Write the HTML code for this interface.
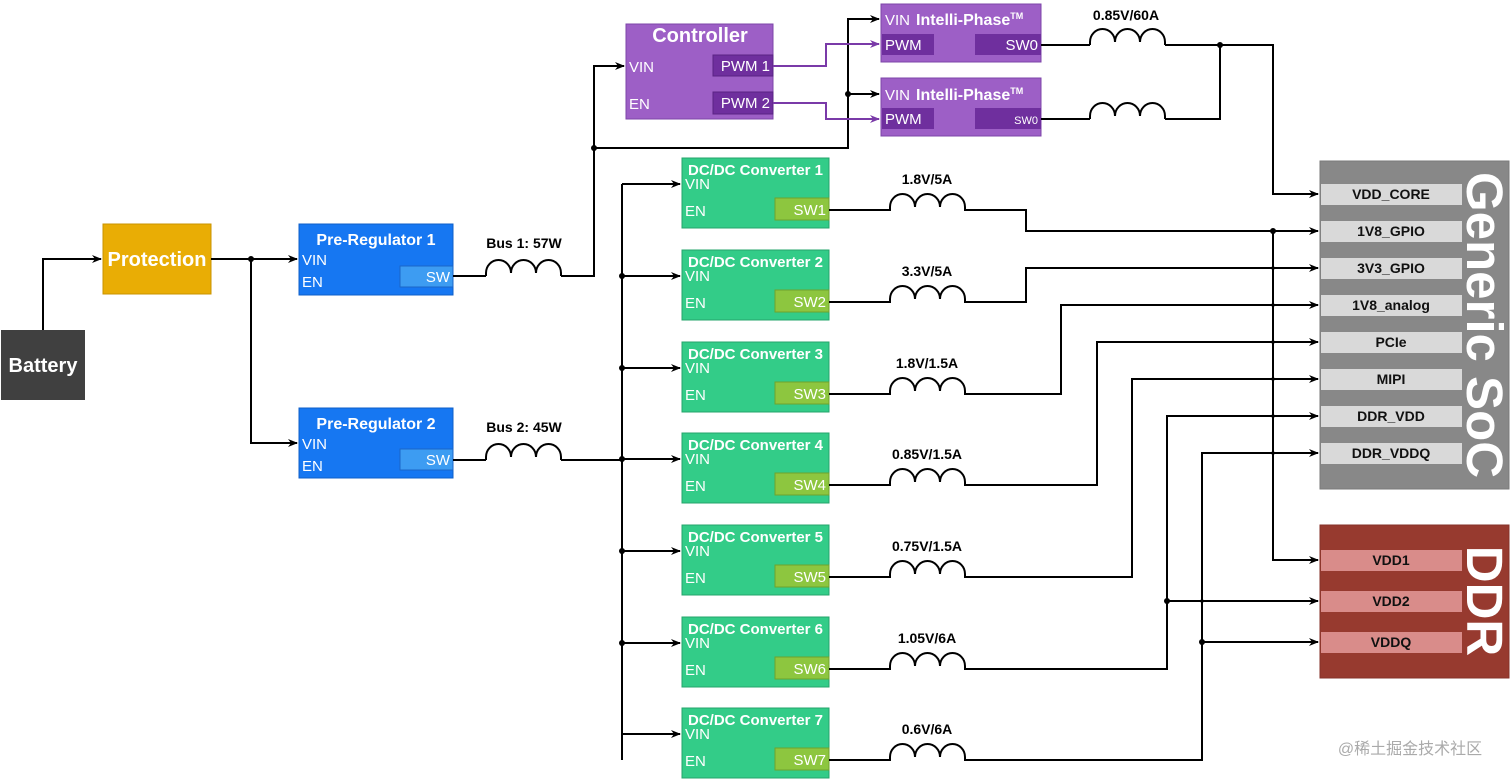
<!DOCTYPE html>
<html><head><meta charset="utf-8"><style>
html,body{margin:0;padding:0;background:#fff}
svg{display:block}
text{font-family:"Liberation Sans",Arial,sans-serif}
</style></head><body>
<svg width="1512" height="780" viewBox="0 0 1512 780" xmlns="http://www.w3.org/2000/svg">
<defs>
<marker id="a" markerWidth="10" markerHeight="8" refX="9" refY="4" orient="auto" markerUnits="userSpaceOnUse"><path d="M0,0 L10,4 L0,8 L3,4 z" fill="#000"/></marker>
<marker id="p" markerWidth="10" markerHeight="8" refX="9" refY="4" orient="auto" markerUnits="userSpaceOnUse"><path d="M0,0 L10,4 L0,8 L3,4 z" fill="#7a3aa8"/></marker>
</defs>

<rect x="1" y="330" width="84" height="70" fill="#404040"/>
<text x="43" y="372" fill="#fff" font-size="20" font-weight="bold" text-anchor="middle">Battery</text>
<rect x="103" y="224" width="108" height="70" fill="#e9ad05" stroke="#c99300"/>
<text x="157" y="266" fill="#fff" font-size="20" font-weight="bold" text-anchor="middle">Protection</text>

<g fill="none" stroke="#000" stroke-width="2">
<polyline points="43,330 43,259 101,259" marker-end="url(#a)"/>
<polyline points="211,259 297,259" marker-end="url(#a)"/>
<polyline points="251,259 251,443 297,443" marker-end="url(#a)"/>
</g>
<circle cx="251" cy="259" r="3"/>

<rect x="299" y="224" width="154" height="71" fill="#1677f2" stroke="#0f5fc8"/>
<rect x="400" y="266" width="53" height="21" fill="#3d9cf2" stroke="#1a66c8"/>
<text x="376" y="245" fill="#fff" font-size="16" font-weight="bold" text-anchor="middle">Pre-Regulator 1</text>
<text x="302" y="265" fill="#fff" font-size="15">VIN</text>
<text x="302" y="287" fill="#fff" font-size="15">EN</text>
<text x="450" y="282" fill="#fff" font-size="15" text-anchor="end">SW</text>

<rect x="299" y="408" width="154" height="70" fill="#1677f2" stroke="#0f5fc8"/>
<rect x="400" y="449" width="53" height="21" fill="#3d9cf2" stroke="#1a66c8"/>
<text x="376" y="429" fill="#fff" font-size="16" font-weight="bold" text-anchor="middle">Pre-Regulator 2</text>
<text x="302" y="449" fill="#fff" font-size="15">VIN</text>
<text x="302" y="471" fill="#fff" font-size="15">EN</text>
<text x="450" y="465" fill="#fff" font-size="15" text-anchor="end">SW</text>

<text x="524" y="248" font-size="14" font-weight="bold" text-anchor="middle">Bus 1: 57W</text>
<text x="524" y="432" font-size="14" font-weight="bold" text-anchor="middle">Bus 2: 45W</text>

<g fill="none" stroke="#000" stroke-width="2">
<polyline points="453,276 486,276"/>
<path d="M486 276 v-3 a12.5 13 0 0 1 25 0 a12.5 13 0 0 1 25 0 a12.5 13 0 0 1 25 0 v3"/>
<polyline points="561,276 594,276 594,66 624,66" marker-end="url(#a)"/>
<polyline points="594,148 848,148 848,19 879,19" marker-end="url(#a)"/>
<polyline points="848,94 879,94" marker-end="url(#a)"/>
<polyline points="453,460 486,460"/>
<path d="M486 460 v-3 a12.5 13 0 0 1 25 0 a12.5 13 0 0 1 25 0 a12.5 13 0 0 1 25 0 v3"/>
<polyline points="561,460 622,460"/>
<polyline points="622,184 622,760"/>
<polyline points="622,184 680,184" marker-end="url(#a)"/>
<polyline points="622,276 680,276" marker-end="url(#a)"/>
<polyline points="622,368 680,368" marker-end="url(#a)"/>
<polyline points="622,459 680,459" marker-end="url(#a)"/>
<polyline points="622,551 680,551" marker-end="url(#a)"/>
<polyline points="622,643 680,643" marker-end="url(#a)"/>
<polyline points="622,734 680,734" marker-end="url(#a)"/>
</g>
<circle cx="594" cy="148" r="3"/><circle cx="848" cy="94" r="3"/>
<circle cx="622" cy="276" r="3"/><circle cx="622" cy="368" r="3"/><circle cx="622" cy="459" r="3"/><circle cx="622" cy="551" r="3"/><circle cx="622" cy="643" r="3"/>

<rect x="626" y="24" width="147" height="95" fill="#9d5fc6" stroke="#7d44a8"/>
<rect x="713" y="55" width="60" height="21" fill="#6f2f9e" stroke="#5a2384"/>
<rect x="713" y="92" width="60" height="22" fill="#6f2f9e" stroke="#5a2384"/>
<text x="700" y="42" fill="#fff" font-size="20" font-weight="bold" text-anchor="middle">Controller</text>
<text x="629" y="72" fill="#fff" font-size="15">VIN</text>
<text x="629" y="109" fill="#fff" font-size="15">EN</text>
<text x="770" y="71" fill="#fff" font-size="15" text-anchor="end">PWM 1</text>
<text x="770" y="108" fill="#fff" font-size="15" text-anchor="end">PWM 2</text>
<g fill="none" stroke="#7a3aa8" stroke-width="2">
<polyline points="773,66 826,66 826,44 879,44" marker-end="url(#p)"/>
<polyline points="773,103 826,103 826,119 879,119" marker-end="url(#p)"/>
</g>

<rect x="881" y="4" width="160" height="58" fill="#9d5fc6" stroke="#7d44a8"/>
<rect x="882" y="34" width="52" height="21" fill="#6f2f9e"/>
<rect x="975" y="34" width="66" height="21" fill="#6f2f9e"/>
<text x="885" y="25" fill="#fff" font-size="15">VIN</text>
<text x="916" y="25" fill="#fff" font-size="16" font-weight="bold">Intelli-Phase<tspan font-size="9" dy="-6">TM</tspan></text>
<text x="885" y="50" fill="#fff" font-size="15">PWM</text>
<text x="1038" y="50" fill="#fff" font-size="15" text-anchor="end">SW0</text>

<rect x="881" y="78" width="160" height="58" fill="#9d5fc6" stroke="#7d44a8"/>
<rect x="882" y="108" width="52" height="21" fill="#6f2f9e"/>
<rect x="975" y="108" width="66" height="21" fill="#6f2f9e"/>
<text x="885" y="100" fill="#fff" font-size="15">VIN</text>
<text x="916" y="100" fill="#fff" font-size="16" font-weight="bold">Intelli-Phase<tspan font-size="9" dy="-6">TM</tspan></text>
<text x="885" y="124" fill="#fff" font-size="15">PWM</text>
<text x="1038" y="124" fill="#fff" font-size="11" text-anchor="end">SW0</text>

<text x="1126" y="20" font-size="14" font-weight="bold" text-anchor="middle">0.85V/60A</text>
<g fill="none" stroke="#000" stroke-width="2">
<polyline points="1041,45 1090,45"/>
<path d="M1090 45 v-3 a12.5 13 0 0 1 25 0 a12.5 13 0 0 1 25 0 a12.5 13 0 0 1 25 0 v3"/>
<polyline points="1165,45 1273,45 1273,194 1318,194" marker-end="url(#a)"/>
<polyline points="1041,119 1090,119"/>
<path d="M1090 119 v-3 a12.5 13 0 0 1 25 0 a12.5 13 0 0 1 25 0 a12.5 13 0 0 1 25 0 v3"/>
<polyline points="1165,119 1220,119 1220,45"/>
</g>
<circle cx="1220" cy="45" r="3"/>

<g>
<rect x="682" y="158" width="147" height="70" fill="#33cc88" stroke="#24a56b"/><rect x="775" y="198" width="54" height="22" fill="#8dc63f" stroke="#6ea32c"/>
<text x="688" y="175" fill="#fff" font-size="15" font-weight="bold">DC/DC Converter 1</text><text x="685" y="189" fill="#fff" font-size="15">VIN</text><text x="685" y="216" fill="#fff" font-size="15">EN</text><text x="826" y="215" fill="#fff" font-size="15" text-anchor="end">SW1</text>
<rect x="682" y="250" width="147" height="70" fill="#33cc88" stroke="#24a56b"/><rect x="775" y="290" width="54" height="22" fill="#8dc63f" stroke="#6ea32c"/>
<text x="688" y="267" fill="#fff" font-size="15" font-weight="bold">DC/DC Converter 2</text><text x="685" y="281" fill="#fff" font-size="15">VIN</text><text x="685" y="308" fill="#fff" font-size="15">EN</text><text x="826" y="307" fill="#fff" font-size="15" text-anchor="end">SW2</text>
<rect x="682" y="342" width="147" height="70" fill="#33cc88" stroke="#24a56b"/><rect x="775" y="382" width="54" height="22" fill="#8dc63f" stroke="#6ea32c"/>
<text x="688" y="359" fill="#fff" font-size="15" font-weight="bold">DC/DC Converter 3</text><text x="685" y="373" fill="#fff" font-size="15">VIN</text><text x="685" y="400" fill="#fff" font-size="15">EN</text><text x="826" y="399" fill="#fff" font-size="15" text-anchor="end">SW3</text>
<rect x="682" y="433" width="147" height="70" fill="#33cc88" stroke="#24a56b"/><rect x="775" y="473" width="54" height="22" fill="#8dc63f" stroke="#6ea32c"/>
<text x="688" y="450" fill="#fff" font-size="15" font-weight="bold">DC/DC Converter 4</text><text x="685" y="464" fill="#fff" font-size="15">VIN</text><text x="685" y="491" fill="#fff" font-size="15">EN</text><text x="826" y="490" fill="#fff" font-size="15" text-anchor="end">SW4</text>
<rect x="682" y="525" width="147" height="70" fill="#33cc88" stroke="#24a56b"/><rect x="775" y="565" width="54" height="22" fill="#8dc63f" stroke="#6ea32c"/>
<text x="688" y="542" fill="#fff" font-size="15" font-weight="bold">DC/DC Converter 5</text><text x="685" y="556" fill="#fff" font-size="15">VIN</text><text x="685" y="583" fill="#fff" font-size="15">EN</text><text x="826" y="582" fill="#fff" font-size="15" text-anchor="end">SW5</text>
<rect x="682" y="617" width="147" height="70" fill="#33cc88" stroke="#24a56b"/><rect x="775" y="657" width="54" height="22" fill="#8dc63f" stroke="#6ea32c"/>
<text x="688" y="634" fill="#fff" font-size="15" font-weight="bold">DC/DC Converter 6</text><text x="685" y="648" fill="#fff" font-size="15">VIN</text><text x="685" y="675" fill="#fff" font-size="15">EN</text><text x="826" y="674" fill="#fff" font-size="15" text-anchor="end">SW6</text>
<rect x="682" y="708" width="147" height="70" fill="#33cc88" stroke="#24a56b"/><rect x="775" y="748" width="54" height="22" fill="#8dc63f" stroke="#6ea32c"/>
<text x="688" y="725" fill="#fff" font-size="15" font-weight="bold">DC/DC Converter 7</text><text x="685" y="739" fill="#fff" font-size="15">VIN</text><text x="685" y="766" fill="#fff" font-size="15">EN</text><text x="826" y="765" fill="#fff" font-size="15" text-anchor="end">SW7</text>
</g>

<g font-size="14" font-weight="bold" text-anchor="middle">
<text x="927" y="184">1.8V/5A</text>
<text x="927" y="276">3.3V/5A</text>
<text x="927" y="368">1.8V/1.5A</text>
<text x="927" y="459">0.85V/1.5A</text>
<text x="927" y="551">0.75V/1.5A</text>
<text x="927" y="643">1.05V/6A</text>
<text x="927" y="734">0.6V/6A</text>
</g>

<g fill="none" stroke="#000" stroke-width="2">
<path d="M829 210 H890 v-3 a12.5 13 0 0 1 25 0 a12.5 13 0 0 1 25 0 a12.5 13 0 0 1 25 0 v3 H1026 V231 H1318" marker-end="url(#a)"/>
<path d="M829 302 H890 v-3 a12.5 13 0 0 1 25 0 a12.5 13 0 0 1 25 0 a12.5 13 0 0 1 25 0 v3 H1026 V268 H1318" marker-end="url(#a)"/>
<path d="M829 394 H890 v-3 a12.5 13 0 0 1 25 0 a12.5 13 0 0 1 25 0 a12.5 13 0 0 1 25 0 v3 H1061 V305 H1318" marker-end="url(#a)"/>
<path d="M829 485 H890 v-3 a12.5 13 0 0 1 25 0 a12.5 13 0 0 1 25 0 a12.5 13 0 0 1 25 0 v3 H1097 V342 H1318" marker-end="url(#a)"/>
<path d="M829 577 H890 v-3 a12.5 13 0 0 1 25 0 a12.5 13 0 0 1 25 0 a12.5 13 0 0 1 25 0 v3 H1132 V379 H1318" marker-end="url(#a)"/>
<path d="M829 669 H890 v-3 a12.5 13 0 0 1 25 0 a12.5 13 0 0 1 25 0 a12.5 13 0 0 1 25 0 v3 H1167 V416 H1318" marker-end="url(#a)"/>
<path d="M829 760 H890 v-3 a12.5 13 0 0 1 25 0 a12.5 13 0 0 1 25 0 a12.5 13 0 0 1 25 0 v3 H1202 V453 H1318" marker-end="url(#a)"/>
<path d="M1273 231 V560 H1318" marker-end="url(#a)"/>
<path d="M1167 601 H1318" marker-end="url(#a)"/>
<path d="M1202 642 H1318" marker-end="url(#a)"/>
</g>
<circle cx="1273" cy="231" r="3"/><circle cx="1167" cy="601" r="3"/><circle cx="1202" cy="642" r="3"/>
<g fill="#000"><circle cx="1273" cy="268" r="1.8"/><circle cx="1273" cy="305" r="1.8"/><circle cx="1273" cy="342" r="1.8"/><circle cx="1273" cy="379" r="1.8"/><circle cx="1273" cy="416" r="1.8"/><circle cx="1273" cy="453" r="1.8"/><circle cx="1202" cy="601" r="1.8"/></g>

<rect x="1320" y="161" width="189" height="328" fill="#888888" stroke="#7a7a7a"/>
<g fill="#d9d9d9">
<rect x="1321" y="184" width="141" height="21"/><rect x="1321" y="221" width="141" height="21"/><rect x="1321" y="258" width="141" height="21"/><rect x="1321" y="295" width="141" height="21"/><rect x="1321" y="332" width="141" height="21"/><rect x="1321" y="369" width="141" height="21"/><rect x="1321" y="406" width="141" height="21"/><rect x="1321" y="443" width="141" height="21"/>
</g>
<g font-size="14" font-weight="bold" text-anchor="middle" fill="#111">
<text x="1391" y="199">VDD_CORE</text><text x="1391" y="236">1V8_GPIO</text><text x="1391" y="273">3V3_GPIO</text><text x="1391" y="310">1V8_analog</text><text x="1391" y="347">PCIe</text><text x="1391" y="384">MIPI</text><text x="1391" y="421">DDR_VDD</text><text x="1391" y="458">DDR_VDDQ</text>
</g>
<text transform="translate(1467,325) rotate(90)" fill="#fff" font-size="51" font-weight="bold" text-anchor="middle">Generic SoC</text>

<rect x="1320" y="525" width="189" height="153" fill="#973a2f" stroke="#86322a"/>
<g fill="#d98c8a"><rect x="1321" y="550" width="141" height="21"/><rect x="1321" y="591" width="141" height="21"/><rect x="1321" y="632" width="141" height="21"/></g>
<g font-size="14" font-weight="bold" text-anchor="middle" fill="#111">
<text x="1391" y="565">VDD1</text><text x="1391" y="606">VDD2</text><text x="1391" y="647">VDDQ</text>
</g>
<text transform="translate(1467,601) rotate(90)" fill="#fff" font-size="51" font-weight="bold" text-anchor="middle">DDR</text>

<text x="1410" y="754" fill="#aaa" font-size="16" text-anchor="middle" font-family="Liberation Sans, Noto Sans CJK SC, sans-serif">@稀土掘金技术社区</text>
</svg>
</body></html>
